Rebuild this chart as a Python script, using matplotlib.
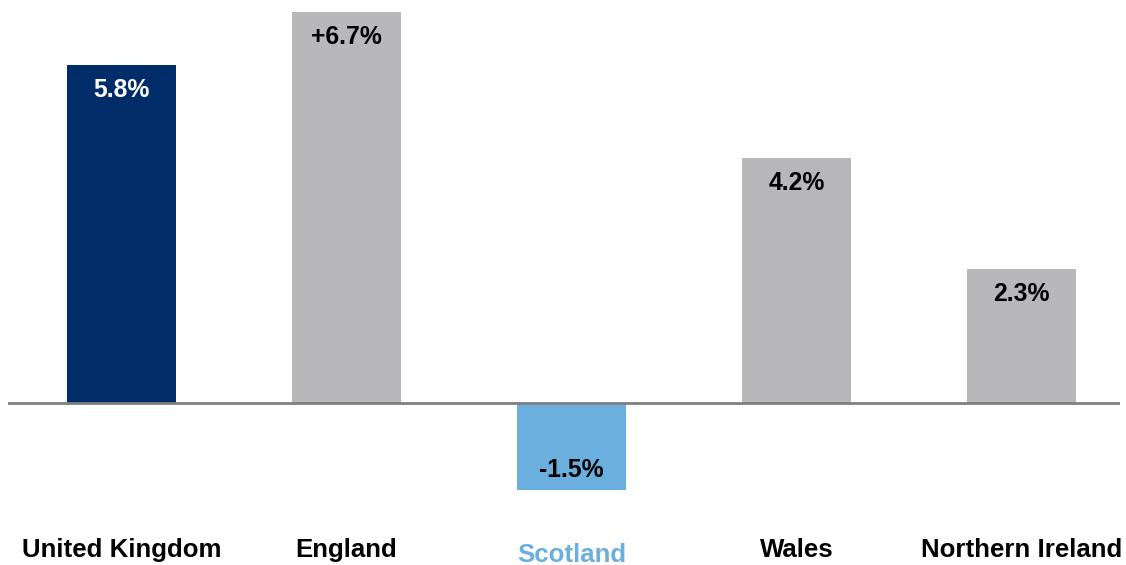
import matplotlib
matplotlib.use("Agg")
import matplotlib.pyplot as plt

categories = ["United Kingdom", "England", "Scotland", "Wales", "Northern Ireland"]
values = [5.8, 6.7, -1.5, 4.2, 2.3]
value_labels = ["5.8%", "+6.7%", "-1.5%", "4.2%", "2.3%"]
bar_colors = ["#002C67", "#B8B8BA", "#6BAFDF", "#B8B8BA", "#B8B8BA"]
label_colors = ["white", "black", "black", "black", "black"]
cat_colors = ["black", "black", "#6BAFDF", "black", "black"]
cat_baseline = [-2.642, -2.642, -2.727, -2.642, -2.642]

FAM = ["Liberation Sans", "DejaVu Sans"]
W, H = 1126, 565
fig = plt.figure(figsize=(W / 100, H / 100), dpi=100)
ax = fig.add_axes([8 / W, 0, (1120 - 8) / W, 1])

x = list(range(len(categories)))
ax.bar(x, values, width=0.484, color=bar_colors, zorder=2)
ax.axhline(0, color="#7F7F7F", lw=2, zorder=3)

for xi, v, lab, c in zip(x, values, value_labels, label_colors):
    off = -23.0 if v >= 0 else 9.4
    ax.annotate(lab, (xi, v), xytext=(0, off), textcoords="offset points",
                ha="center", va="baseline", fontsize=17.8, fontweight="bold",
                color=c, family=FAM)

for xi, cat, c, yb in zip(x, categories, cat_colors, cat_baseline):
    ax.text(xi, yb, cat, ha="center", va="baseline", fontsize=18.6,
            fontweight="bold", color=c, family=FAM)

ax.set_xlim(-0.5044, 4.438)
ax.set_ylim(-2.779, 6.912)
ax.axis("off")

fig.savefig("out.png", dpi=100, facecolor="white")
